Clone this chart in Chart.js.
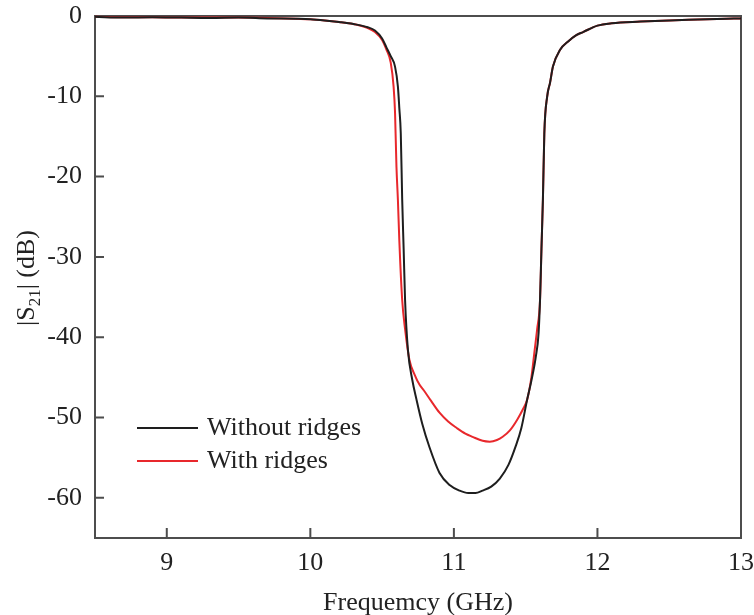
<!DOCTYPE html>
<html>
<head>
<meta charset="utf-8">
<script src="https://cdn.jsdelivr.net/npm/chart.js@4.4.0/dist/chart.umd.min.js"></script>
<style>
  html, body { margin: 0; padding: 0; background: #fff; }
  #wrap { width: 754px; height: 615px; }
</style>
</head>
<body>
<div id="wrap"><canvas id="s21"></canvas></div>
<script>
// frequency sweep (GHz) and |S21| (dB) for both structures
var freqPlain = [8.5, 8.7, 8.9, 9.1, 9.3, 9.5, 9.7, 9.9, 10.0, 10.1, 10.2, 10.3, 10.4, 10.45, 10.5, 10.53, 10.56, 10.59, 10.61, 10.62, 10.63, 10.64, 10.65, 10.66, 10.68, 10.71, 10.74, 10.78, 10.83, 10.9, 10.97, 11.04, 11.1, 11.15, 11.2, 11.26, 11.32, 11.38, 11.43, 11.47, 11.51, 11.54, 11.57, 11.59, 11.6, 11.61, 11.62, 11.63, 11.65, 11.67, 11.69, 11.74, 11.8, 11.85, 11.9, 12.0, 12.1, 12.3, 12.5, 12.7, 12.9, 13.0];
var s21Plain = [-0.1, -0.2, -0.15, -0.2, -0.25, -0.2, -0.3, -0.35, -0.4, -0.55, -0.75, -1.0, -1.4, -1.8, -2.8, -3.9, -5.0, -6.3, -8.8, -11.5, -14.6, -22.9, -29, -35.4, -41.6, -45.3, -47.8, -50.8, -53.7, -56.9, -58.4, -59.1, -59.4, -59.4, -59.1, -58.6, -57.6, -55.9, -53.6, -51.3, -47.8, -45.4, -42.5, -39.5, -35.4, -29, -22.9, -14.6, -10, -8.3, -6.3, -4.2, -3.1, -2.4, -2.0, -1.2, -0.9, -0.7, -0.55, -0.45, -0.35, -0.3];

var freqRidged = [8.5, 8.7, 8.9, 9.1, 9.3, 9.5, 9.7, 9.9, 10.0, 10.1, 10.2, 10.3, 10.4, 10.45, 10.5, 10.53, 10.56, 10.58, 10.59, 10.6, 10.61, 10.62, 10.64, 10.66, 10.69, 10.73, 10.76, 10.79, 10.84, 10.9, 10.96, 11.02, 11.08, 11.13, 11.2, 11.25, 11.3, 11.34, 11.39, 11.44, 11.48, 11.51, 11.54, 11.56, 11.58, 11.6, 11.61, 11.62, 11.63, 11.65, 11.67, 11.69, 11.74, 11.8, 11.85, 11.9, 12.0, 12.1, 12.3, 12.5, 12.7, 12.9, 13.0];
var s21Ridged = [-0.1, -0.15, -0.15, -0.2, -0.2, -0.2, -0.25, -0.35, -0.4, -0.55, -0.75, -1.0, -1.5, -2.0, -3.0, -4.2, -5.8, -8.8, -12, -18.8, -22.9, -28, -35.4, -39, -42.8, -44.8, -45.9, -46.6, -47.9, -49.4, -50.5, -51.3, -52.0, -52.4, -52.9, -53.0, -52.8, -52.4, -51.6, -50.3, -49.0, -47.8, -45, -42, -39, -35.4, -29, -22.9, -14.6, -10, -8.3, -6.3, -4.2, -3.1, -2.4, -2.0, -1.2, -0.9, -0.7, -0.55, -0.45, -0.35, -0.3];

var xTicks = [9, 10, 11, 12, 13];
var yTicks = [-60, -50, -40, -30, -20, -10, 0];

var serif = '"Liberation Serif", "Times New Roman", serif';
var axisColor = '#4d4d4d';

function toPoints(xs, ys) {
    return xs.map(function (x, i) { return { x: x, y: ys[i] }; });
}

// frame, inward ticks, axis titles and the inset legend
var decorations = {
    id: 'decorations',
    beforeDatasetsDraw: function (chart) {
        var c = chart.ctx, a = chart.chartArea;
        var xs = chart.scales.x, ys = chart.scales.y;
        c.save();
        c.strokeStyle = axisColor;
        c.lineWidth = 2;
        c.strokeRect(a.left, a.top, a.right - a.left, a.bottom - a.top);
        c.beginPath();
        xTicks.forEach(function (v) {
            var px = xs.getPixelForValue(v);
            c.moveTo(px, a.bottom);
            c.lineTo(px, a.bottom - 10);
        });
        yTicks.forEach(function (v) {
            var py = ys.getPixelForValue(v);
            c.moveTo(a.left, py);
            c.lineTo(a.left + 9, py);
        });
        c.stroke();
        c.restore();
    },
    afterDatasetsDraw: function (chart) {
        var c = chart.ctx, a = chart.chartArea;
        c.save();
        c.fillStyle = '#222';
        c.font = '26px ' + serif;

        // x title
        c.textAlign = 'center';
        c.textBaseline = 'alphabetic';
        c.fillText('Frequemcy (GHz)', (a.left + a.right) / 2, 610);

        // y title with subscript
        c.save();
        c.translate(34, 278);
        c.rotate(-Math.PI / 2);
        var big = '26px ' + serif, small = '17px ' + serif;
        c.font = big;
        var w1 = c.measureText('|S').width;
        var w3 = c.measureText('| (dB)').width;
        c.font = small;
        var w2 = c.measureText('21').width;
        var x0 = -(w1 + w2 + w3) / 2;
        c.textAlign = 'left';
        c.font = big;
        c.fillText('|S', x0, 0);
        c.font = small;
        c.fillText('21', x0 + w1, 6);
        c.font = big;
        c.fillText('| (dB)', x0 + w1 + w2, 0);
        c.restore();

        // legend
        chart.data.datasets.forEach(function (ds, i) {
            var y = a.top + 412 + i * 33;
            c.strokeStyle = ds.borderColor;
            c.lineWidth = 2;
            c.beginPath();
            c.moveTo(a.left + 42, y);
            c.lineTo(a.left + 103, y);
            c.stroke();
            c.fillStyle = '#222';
            c.font = '26px ' + serif;
            c.textAlign = 'left';
            c.textBaseline = 'middle';
            c.fillText(ds.label, a.left + 112, y);
        });
        c.restore();
    }
};

var ctx = document.getElementById('s21').getContext('2d');
var myLineChart = new Chart(ctx, {
    type: 'line',
    data: {
        datasets: [{
            label: 'Without ridges',
            data: toPoints(freqPlain, s21Plain),
            borderColor: '#1e1e1e',
            borderWidth: 2,
            pointRadius: 0,
            cubicInterpolationMode: 'monotone',
            clip: false
        }, {
            label: 'With ridges',
            data: toPoints(freqRidged, s21Ridged),
            borderColor: '#e8282c',
            borderWidth: 2,
            pointRadius: 0,
            cubicInterpolationMode: 'monotone',
            clip: false
        }]
    },
    options: {
        responsive: true,
        maintainAspectRatio: false,
        animation: false,
        layout: { padding: { left: 0, right: 13, top: 16, bottom: 0 } },
        plugins: {
            legend: { display: false },
            tooltip: { enabled: false }
        },
        scales: {
            x: {
                type: 'linear',
                min: 8.5,
                max: 13,
                afterBuildTicks: function (scale) {
                    scale.ticks = xTicks.map(function (v) { return { value: v }; });
                },
                afterFit: function (scale) {
                    scale.height = 77;
                    scale.paddingLeft = 0;
                    scale.paddingRight = 0;
                },
                grid: { display: false, drawTicks: false },
                border: { display: false },
                ticks: {
                    padding: 10,
                    color: '#222',
                    maxRotation: 0,
                    font: { family: serif, size: 26 }
                }
            },
            y: {
                type: 'linear',
                min: -65,
                max: 0,
                afterBuildTicks: function (scale) {
                    scale.ticks = yTicks.map(function (v) { return { value: v }; });
                },
                afterFit: function (scale) {
                    scale.width = 95;
                    scale.paddingTop = 0;
                    scale.paddingBottom = 0;
                },
                grid: { display: false, drawTicks: false },
                border: { display: false },
                ticks: {
                    padding: 13,
                    color: '#222',
                    font: { family: serif, size: 26 }
                }
            }
        }
    },
    plugins: [decorations]
});
</script>
</body>
</html>
